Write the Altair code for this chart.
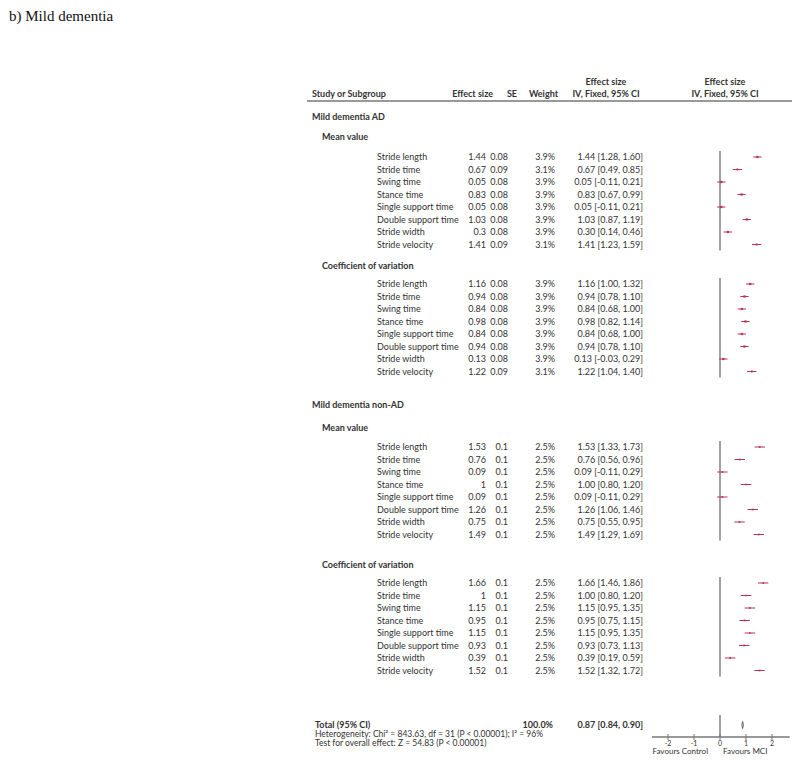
import altair as alt
import pandas as pd

# ---------------- data ----------------
measures = ["Stride length", "Stride time", "Swing time", "Stance time",
            "Single support time", "Double support time", "Stride width", "Stride velocity"]

ad_mean_es = [1.44, 0.67, 0.05, 0.83, 0.05, 1.03, 0.3, 1.41]
ad_mean_se = [0.08, 0.09, 0.08, 0.08, 0.08, 0.08, 0.08, 0.09]
ad_mean_w = ["3.9%", "3.1%", "3.9%", "3.9%", "3.9%", "3.9%", "3.9%", "3.1%"]
ad_mean_lo = [1.28, 0.49, -0.11, 0.67, -0.11, 0.87, 0.14, 1.23]
ad_mean_hi = [1.60, 0.85, 0.21, 0.99, 0.21, 1.19, 0.46, 1.59]

ad_cv_es = [1.16, 0.94, 0.84, 0.98, 0.84, 0.94, 0.13, 1.22]
ad_cv_se = [0.08, 0.08, 0.08, 0.08, 0.08, 0.08, 0.08, 0.09]
ad_cv_w = ["3.9%", "3.9%", "3.9%", "3.9%", "3.9%", "3.9%", "3.9%", "3.1%"]
ad_cv_lo = [1.00, 0.78, 0.68, 0.82, 0.68, 0.78, -0.03, 1.04]
ad_cv_hi = [1.32, 1.10, 1.00, 1.14, 1.00, 1.10, 0.29, 1.40]

non_mean_es = [1.53, 0.76, 0.09, 1, 0.09, 1.26, 0.75, 1.49]
non_mean_se = [0.1, 0.1, 0.1, 0.1, 0.1, 0.1, 0.1, 0.1]
non_mean_w = ["2.5%"] * 8
non_mean_lo = [1.33, 0.56, -0.11, 0.80, -0.11, 1.06, 0.55, 1.29]
non_mean_hi = [1.73, 0.96, 0.29, 1.20, 0.29, 1.46, 0.95, 1.69]

non_cv_es = [1.66, 1, 1.15, 0.95, 1.15, 0.93, 0.39, 1.52]
non_cv_se = [0.1, 0.1, 0.1, 0.1, 0.1, 0.1, 0.1, 0.1]
non_cv_w = ["2.5%"] * 8
non_cv_lo = [1.46, 0.80, 0.95, 0.75, 0.95, 0.73, 0.19, 1.32]
non_cv_hi = [1.86, 1.20, 1.35, 1.15, 1.35, 1.13, 0.59, 1.72]

total_es, total_lo, total_hi = 0.87, 0.84, 0.90
total_weight = "100.0%"
heterogeneity = "Heterogeneity: Chi\u00b2 = 843.63, df = 31 (P < 0.00001); I\u00b2 = 96%"
overall_test = "Test for overall effect: Z = 54.83 (P < 0.00001)"
axis_ticks = [-2, -1, 0, 1, 2]

# ---------------- layout (chart pixels) ----------------
W, H = 784, 757
ZERO_PX, PX_PER_UNIT = 712, 26.0
x_dom = [-ZERO_PX / PX_PER_UNIT, (W - ZERO_PX) / PX_PER_UNIT]
PITCH = 12.5

blocks = [
    ("Mild dementia  AD", 109, "Mean value", 129, 149,
     ad_mean_es, ad_mean_se, ad_mean_w, ad_mean_lo, ad_mean_hi),
    (None, None, "Coefficient  of variation", 258, 276,
     ad_cv_es, ad_cv_se, ad_cv_w, ad_cv_lo, ad_cv_hi),
    ("Mild dementia  non-AD", 397, "Mean value", 420, 439,
     non_mean_es, non_mean_se, non_mean_w, non_mean_lo, non_mean_hi),
    (None, None, "Coefficient  of variation", 557, 575,
     non_cv_es, non_cv_se, non_cv_w, non_cv_lo, non_cv_hi),
]

rows, group_hdr, sub_hdr, zero_seg = [], [], [], []
for g, gy, s, sy, y0, es, se, w, lo, hi in blocks:
    if g:
        group_hdr.append({"text": g, "y": gy})
    sub_hdr.append({"text": s, "y": sy})
    for i, m in enumerate(measures):
        rows.append({
            "label": m, "y": y0 + i * PITCH,
            "es_txt": f"{es[i]:g}", "se_txt": f"{se[i]:g}", "w_txt": w[i],
            "ci_txt": f"{es[i]:.2f} [{lo[i]:.2f}, {hi[i]:.2f}]",
            "es": es[i], "lo": lo[i], "hi": hi[i],
            "wnum": float(w[i].rstrip("%")),
        })
    zero_seg.append({"x": 0, "y": y0 - 6, "y2": y0 + 7 * PITCH + 6})

TOTAL_Y, HET_Y, TEST_Y = 717, 726, 735
AXIS_Y = 729
zero_seg.append({"x": 0, "y": 707, "y2": AXIS_Y})

rows_df = pd.DataFrame(rows)

Y = alt.Y("y:Q", scale=alt.Scale(domain=[0, H], reverse=True), axis=None)
Y2 = alt.Y2("y2:Q")
X = alt.X("x:Q", scale=alt.Scale(domain=x_dom), axis=None)

FONT = "Lato"
TXT = "#333333"
FS = 9


def text_layer(df, field, xpx, align="left", bold=False, size=FS, color=TXT, font=FONT,
               baseline="middle"):
    return alt.Chart(df).mark_text(
        align=align, baseline=baseline, font=font, fontSize=size,
        fontWeight="bold" if bold else "normal", color=color
    ).encode(x=alt.value(xpx), y=Y, text=f"{field}:N")


layers = []

# title
layers.append(text_layer(pd.DataFrame([{"t": "b) Mild dementia", "y": 8}]), "t", 1,
                         size=15, color="#111111", font="Liberation Serif"))

# column headers
layers.append(text_layer(pd.DataFrame([{"t": "Study or Subgroup", "y": 86}]), "t", 304, bold=True))
layers.append(text_layer(pd.DataFrame([{"t": "Effect size", "y": 86}]), "t", 485, align="right", bold=True))
layers.append(text_layer(pd.DataFrame([{"t": "SE", "y": 86}]), "t", 509, align="right", bold=True))
layers.append(text_layer(pd.DataFrame([{"t": "Weight", "y": 86}]), "t", 550, align="right", bold=True))
two_line = pd.DataFrame([{"t": "Effect size", "y": 74}, {"t": "IV, Fixed, 95% CI", "y": 86}])
layers.append(text_layer(two_line, "t", 598, align="center", bold=True))
layers.append(text_layer(two_line, "t", 717, align="center", bold=True))

# header line
layers.append(alt.Chart(pd.DataFrame([{"y": 93}])).mark_rule(color="#777777", strokeWidth=1.3)
              .encode(x=alt.value(299), x2=alt.value(W), y=Y))

# group / subgroup headers
layers.append(text_layer(pd.DataFrame(group_hdr), "text", 304, bold=True))
layers.append(text_layer(pd.DataFrame(sub_hdr), "text", 314, bold=True))

# study rows
layers.append(text_layer(rows_df, "label", 369))
layers.append(text_layer(rows_df, "es_txt", 478, align="right"))
layers.append(text_layer(rows_df, "se_txt", 500, align="right"))
layers.append(text_layer(rows_df, "w_txt", 547, align="right"))
layers.append(text_layer(rows_df, "ci_txt", 635, align="right"))

# zero line
layers.append(alt.Chart(pd.DataFrame(zero_seg)).mark_rule(color="#8a8a8a", strokeWidth=1.6)
              .encode(x=X, y=Y, y2=Y2))

# CI whiskers and squares
MK = "#b8335a"
layers.append(alt.Chart(rows_df).mark_rule(color=MK, strokeWidth=1)
              .encode(x=alt.X("lo:Q", scale=alt.Scale(domain=x_dom), axis=None), x2="hi:Q", y=Y))
layers.append(alt.Chart(rows_df).mark_point(shape="square", filled=True, color=MK, opacity=1)
              .encode(x=alt.X("es:Q", scale=alt.Scale(domain=x_dom), axis=None), y=Y,
                      size=alt.Size("wnum:Q", scale=alt.Scale(domain=[2.5, 3.9], range=[3, 5]), legend=None)))

# totals
tot = pd.DataFrame([{"y": TOTAL_Y, "label": "Total (95% CI)", "w": total_weight,
                     "ci": f"{total_es:.2f} [{total_lo:.2f}, {total_hi:.2f}]",
                     "es": total_es, "lo": total_lo, "hi": total_hi}])
layers.append(text_layer(tot, "label", 307, bold=True))
layers.append(text_layer(tot, "w", 545, align="right", bold=True))
layers.append(text_layer(tot, "ci", 635, align="right", bold=True))
layers.append(text_layer(pd.DataFrame([{"t": heterogeneity, "y": HET_Y},
                                       {"t": overall_test, "y": TEST_Y}]), "t", 307, size=8.5))

# total diamond (very narrow)
dia = pd.DataFrame([
    {"x": total_lo, "y": TOTAL_Y, "o": 0},
    {"x": total_es, "y": TOTAL_Y - 3.5, "o": 1},
    {"x": total_hi, "y": TOTAL_Y, "o": 2},
    {"x": total_es, "y": TOTAL_Y + 3.5, "o": 3},
    {"x": total_lo, "y": TOTAL_Y, "o": 4},
])
layers.append(alt.Chart(dia).mark_line(color="#444444", strokeWidth=0.8)
              .encode(x=X, y=Y, order="o:Q"))

# axis
layers.append(alt.Chart(pd.DataFrame([{"x": -2.62, "x2": 2.68, "y": AXIS_Y}]))
              .mark_rule(color="#777777", strokeWidth=1.5)
              .encode(x=X, x2="x2:Q", y=Y))
ticks = pd.DataFrame({"x": axis_ticks, "y": [AXIS_Y - 3] * 5, "y2": [AXIS_Y + 3] * 5,
                      "lab": [str(t) for t in axis_ticks], "ly": [AXIS_Y + 7] * 5})
layers.append(alt.Chart(ticks).mark_rule(color="#777777", strokeWidth=1).encode(x=X, y=Y, y2=Y2))
layers.append(alt.Chart(ticks).mark_text(font=FONT, fontSize=7, color=TXT, baseline="middle")
              .encode(x=X, y=alt.Y("ly:Q", scale=alt.Scale(domain=[0, H], reverse=True), axis=None),
                      text="lab:N"))
fav = pd.DataFrame([{"x": -0.46, "y": AXIS_Y + 15, "t": "Favours Control"}])
fav2 = pd.DataFrame([{"x": 0.12, "y": AXIS_Y + 15, "t": "Favours MCI"}])
layers.append(alt.Chart(fav).mark_text(font=FONT, fontSize=8, color=TXT, align="right", baseline="middle")
              .encode(x=X, y=Y, text="t:N"))
layers.append(alt.Chart(fav2).mark_text(font=FONT, fontSize=8, color=TXT, align="left", baseline="middle")
              .encode(x=X, y=Y, text="t:N"))

chart = alt.layer(*layers).properties(
    width=W, height=H, padding=0, autosize=alt.AutoSizeParams(type="none"),
    background="white"
).configure_view(stroke=None)

chart.save("out.html", embed_options={"renderer": "svg", "actions": False})
